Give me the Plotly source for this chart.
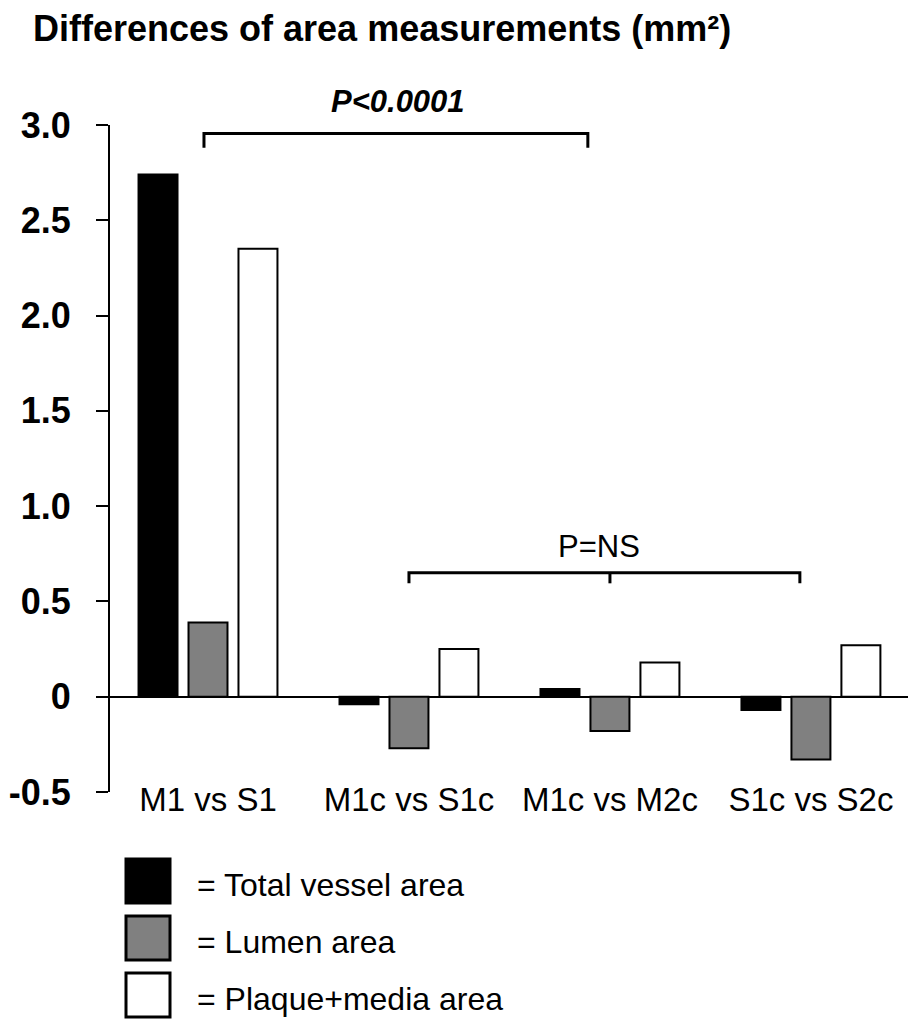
import plotly.graph_objects as go

# Comparison groups on the x axis
comparisons = ["M1 vs S1", "M1c vs S1c", "M1c vs M2c", "S1c vs S2c"]

# Differences of area measurements (mm²) per comparison
total_vessel = [2.74, -0.04, 0.04, -0.07]
lumen = [0.39, -0.27, -0.18, -0.33]
plaque_media = [2.35, 0.25, 0.18, 0.27]

series_names = ["Total vessel area", "Lumen area", "Plaque+media area"]
series_colors = ["#000000", "#808080", "#ffffff"]

# Y axis ticks
y_tickvals = [-0.5, 0, 0.5, 1.0, 1.5, 2.0, 2.5, 3.0]
y_ticktext = ["-0.5", "0", "0.5", "1.0", "1.5", "2.0", "2.5", "3.0"]

# Significance labels
p_main = "P<0.0001"
p_ns = "P=NS"

FONT = "Liberation Sans, Arial, sans-serif"
W, H = 908, 1019
L, R, T, B = 110, 0, 125, 227
PLOT_W = W - L - R
PLOT_H = H - T - B


def px_x(x):
    return (x - L) / PLOT_W


def px_y(y):
    return (H - B - y) / PLOT_H


fig = go.Figure()
x_idx = list(range(len(comparisons)))
for name, vals, col in zip(series_names, [total_vessel, lumen, plaque_media], series_colors):
    fig.add_trace(go.Bar(
        x=x_idx, y=vals, name=name,
        marker=dict(color=col, line=dict(color="black", width=2)),
        showlegend=False,
    ))

shapes = []
# bracket for P<0.0001
shapes.append(dict(type="path", xref="x", yref="y",
                   path="M -0.02,2.88 L -0.02,2.955 L 1.89,2.955 L 1.89,2.88",
                   line=dict(color="black", width=3)))
# bracket for P=NS with a middle tick
shapes.append(dict(type="path", xref="x", yref="y",
                   path="M 1.0,0.595 L 1.0,0.65 L 2.945,0.65 L 2.945,0.595",
                   line=dict(color="black", width=3)))
shapes.append(dict(type="line", xref="x", yref="y", x0=2.0, x1=2.0, y0=0.65, y1=0.595,
                   line=dict(color="black", width=3)))

# legend keys
key_tops = [858, 915, 972]
annotations = []
for top, col, name in zip(key_tops, series_colors, series_names):
    shapes.append(dict(type="rect", xref="paper", yref="paper",
                       x0=px_x(126), x1=px_x(170), y0=px_y(top + 1), y1=px_y(top + 45),
                       fillcolor=col, line=dict(color="black", width=3)))
    annotations.append(dict(xref="paper", yref="paper", x=px_x(195), y=px_y(top + 27),
                            xanchor="left", yanchor="middle", showarrow=False,
                            text="= " + name, font=dict(family=FONT, size=32, color="black")))

annotations.append(dict(xref="paper", yref="paper", x=px_x(398), y=px_y(102), showarrow=False,
                        text=p_main, xanchor="center", yanchor="middle",
                        font=dict(family=FONT, size=31, color="black", weight="bold", style="italic")))
annotations.append(dict(xref="x", yref="y", x=1.945, y=0.79, showarrow=False,
                        text=p_ns, xanchor="center", yanchor="middle",
                        font=dict(family=FONT, size=31, color="black")))

fig.update_layout(
    width=W, height=H,
    margin=dict(l=L, r=R, t=T, b=B, pad=0),
    paper_bgcolor="white", plot_bgcolor="white",
    barmode="group", bargap=0.254, bargroupgap=0.22,
    title=dict(text="Differences of area measurements (mm²)", xref="container", yref="container",
               x=33 / W, xanchor="left", y=1 - 28 / H, yanchor="middle",
               font=dict(family=FONT, size=36, color="black", weight="bold")),
    shapes=shapes, annotations=annotations,
    xaxis=dict(range=[-0.4876, 3.483], tickvals=x_idx, ticktext=comparisons,
               showline=False, showgrid=False, zeroline=False, ticks="",
               tickfont=dict(family=FONT, size=33, color="black"),
               ticklabelstandoff=-15),
    yaxis=dict(range=[-0.5, 3.0], tickvals=y_tickvals, ticktext=y_ticktext,
               showline=True, linecolor="black", linewidth=2,
               ticks="outside", ticklen=12, tickwidth=2, tickcolor="black",
               showgrid=False, zeroline=True, zerolinecolor="black", zerolinewidth=2,
               tickfont=dict(family=FONT, size=36, color="black", weight="bold"),
               ticklabelstandoff=18),
)

fig.write_html("out.html")
